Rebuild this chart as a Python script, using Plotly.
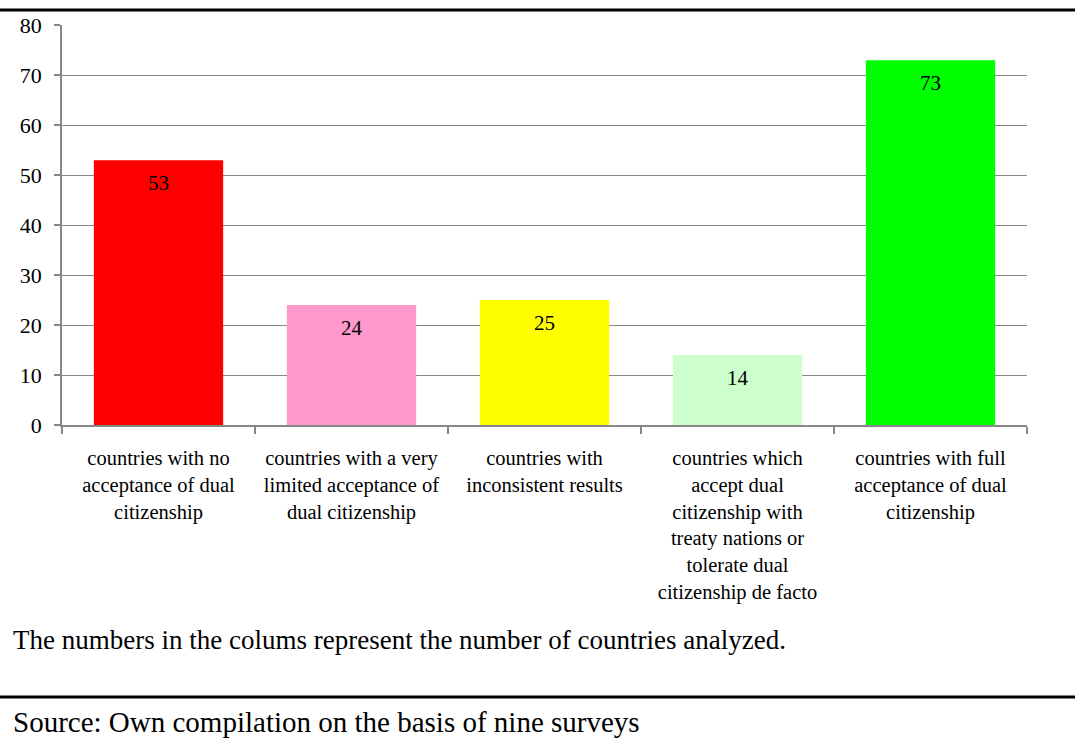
import plotly.graph_objects as go

categories = [
    "countries with no<br>acceptance of dual<br>citizenship",
    "countries with a very<br>limited acceptance of<br>dual citizenship",
    "countries with<br>inconsistent results",
    "countries which<br>accept dual<br>citizenship with<br>treaty nations or<br>tolerate dual<br>citizenship de facto",
    "countries with full<br>acceptance of dual<br>citizenship",
]
values = [53, 24, 25, 14, 73]
colors = ["#FF0000", "#FF99CC", "#FFFF00", "#CCFFCC", "#00FF00"]
y_ticks = [0, 10, 20, 30, 40, 50, 60, 70, 80]

caption = "The numbers in the colums represent the number of countries analyzed."
source = "Source: Own compilation on the basis of nine surveys"

SERIF = "Liberation Serif"
GRID = "#878787"

fig = go.Figure()
fig.add_trace(go.Bar(
    x=categories, y=values, marker=dict(color=colors, line=dict(width=0)),
    hoverinfo="skip", showlegend=False,
))

for c, v in zip(categories, values):
    fig.add_annotation(x=c, y=v, text=str(v), showarrow=False, yanchor="middle",
                       yshift=-23, font=dict(family=SERIF, size=21, color="black"))

fig.update_layout(
    width=1075, height=740,
    margin=dict(l=62, r=48, t=25, b=315),
    paper_bgcolor="white", plot_bgcolor="white",
    bargap=0.33,
    font=dict(family=SERIF, color="black"),
    xaxis=dict(
        type="category", showline=True, linecolor=GRID, linewidth=1.5,
        ticks="outside", tickson="boundaries", ticklen=7, tickcolor=GRID, tickwidth=1.5,
        tickfont=dict(family=SERIF, size=20.5, color="black"),
        ticklabelstandoff=14, showgrid=False, tickangle=0,
    ),
    yaxis=dict(
        range=[0, 80.05], tickvals=y_ticks, showline=True, linecolor=GRID, linewidth=1.5,
        ticks="outside", ticklen=6, tickcolor=GRID, tickwidth=1.5,
        showgrid=True, gridcolor=GRID, gridwidth=1.3, zeroline=False,
        tickfont=dict(family=SERIF, size=22, color="black"), ticklabelstandoff=8,
    ),
)

# rules above and below
fig.add_shape(type="line", xref="paper", yref="paper", x0=-0.1, x1=1.1,
              y0=1 + 15 / 400, y1=1 + 15 / 400,
              line=dict(color="black", width=3))
fig.add_shape(type="line", xref="paper", yref="paper", x0=-0.1, x1=1.1,
              y0=-(697 - 425) / 400, y1=-(697 - 425) / 400,
              line=dict(color="black", width=3))

fig.add_annotation(xref="paper", yref="paper", x=-51 / 965, y=-(640 - 425) / 400,
                   xanchor="left", yanchor="middle", showarrow=False, text=caption,
                   font=dict(family=SERIF, size=27, color="black"))
fig.add_annotation(xref="paper", yref="paper", x=-51 / 965, y=-(722 - 425) / 400,
                   xanchor="left", yanchor="middle", showarrow=False, text=source,
                   font=dict(family=SERIF, size=29, color="black"))

fig.write_html("out.html")
